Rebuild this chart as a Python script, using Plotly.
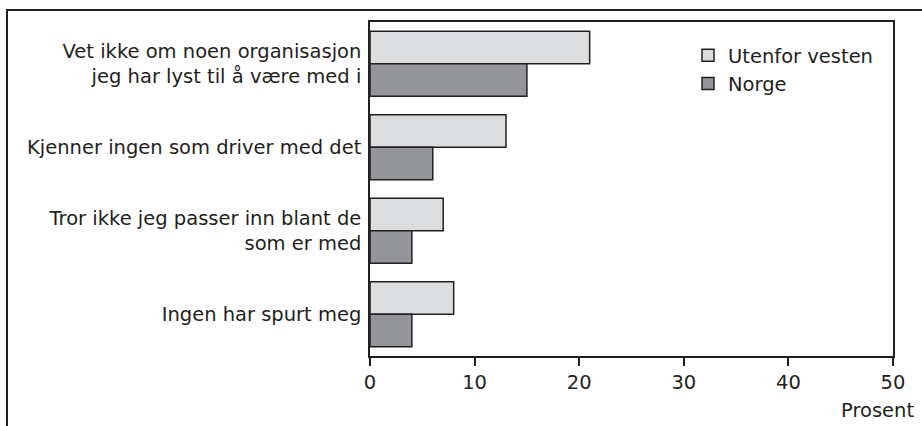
import plotly.graph_objects as go

categories = [
    "Vet ikke om noen organisasjon<br>jeg har lyst til å være med i",
    "Kjenner ingen som driver med det",
    "Tror ikke jeg passer inn blant de<br>som er med",
    "Ingen har spurt meg",
]
utenfor_vesten = [21, 13, 7, 8]
norge = [15, 6, 4, 4]
x_ticks = [0, 10, 20, 30, 40, 50]

W, H = 922, 426
L, R, T, B = 370, 29, 22, 70
pw, ph = W - L - R, H - T - B

FONT = "DejaVu Sans, Verdana, sans-serif"
INK = "#231f20"
FS = 19.5

fig = go.Figure()
fig.add_trace(go.Bar(
    y=categories, x=utenfor_vesten, orientation="h", name="Utenfor vesten",
    marker=dict(color="#dcdddf", line=dict(color=INK, width=1.5)),
))
fig.add_trace(go.Bar(
    y=categories, x=norge, orientation="h", name="Norge",
    marker=dict(color="#949598", line=dict(color=INK, width=1.5)),
))

def px_x(p):
    return (p - L) / pw

def px_y(p):
    return 1 - (p - T) / ph

fig.add_shape(type="rect", xref="paper", yref="paper",
              x0=px_x(7), x1=px_x(940), y0=px_y(10), y1=px_y(440),
              line=dict(color=INK, width=2), layer="below")

fig.add_annotation(text="Prosent", xref="paper", yref="paper",
                   x=px_x(916), y=px_y(410), xanchor="right", yanchor="middle",
                   showarrow=False, font=dict(size=FS, color=INK, family=FONT))

fig.update_layout(
    width=W, height=H,
    margin=dict(l=L, r=R, t=T, b=B, pad=0),
    paper_bgcolor="white", plot_bgcolor="white",
    barmode="group", bargap=0.22, bargroupgap=0,
    font=dict(family=FONT, size=FS, color=INK),
    showlegend=True,
    legend=dict(x=px_x(688), y=px_y(36), xanchor="left", yanchor="top",
                bgcolor="rgba(0,0,0,0)", font=dict(size=FS, color=INK),
                tracegroupgap=0, itemwidth=30),
    xaxis=dict(range=[0, 50], tickvals=x_ticks, ticks="outside", ticklen=8,
               tickwidth=1.5, tickcolor=INK, showgrid=False, zeroline=False,
               showline=True, linecolor=INK, linewidth=1.5, mirror=True,
               tickfont=dict(size=FS, color=INK)),
    yaxis=dict(autorange="reversed", showgrid=False, zeroline=False,
               showline=True, linecolor=INK, linewidth=1.5, mirror=True,
               ticks="", ticklabelstandoff=3,
               tickfont=dict(size=FS, color=INK)),
)

fig.write_html("out.html", config={"displayModeBar": False},
               post_script="document.body.style.margin='0';document.body.style.overflow='hidden';")
